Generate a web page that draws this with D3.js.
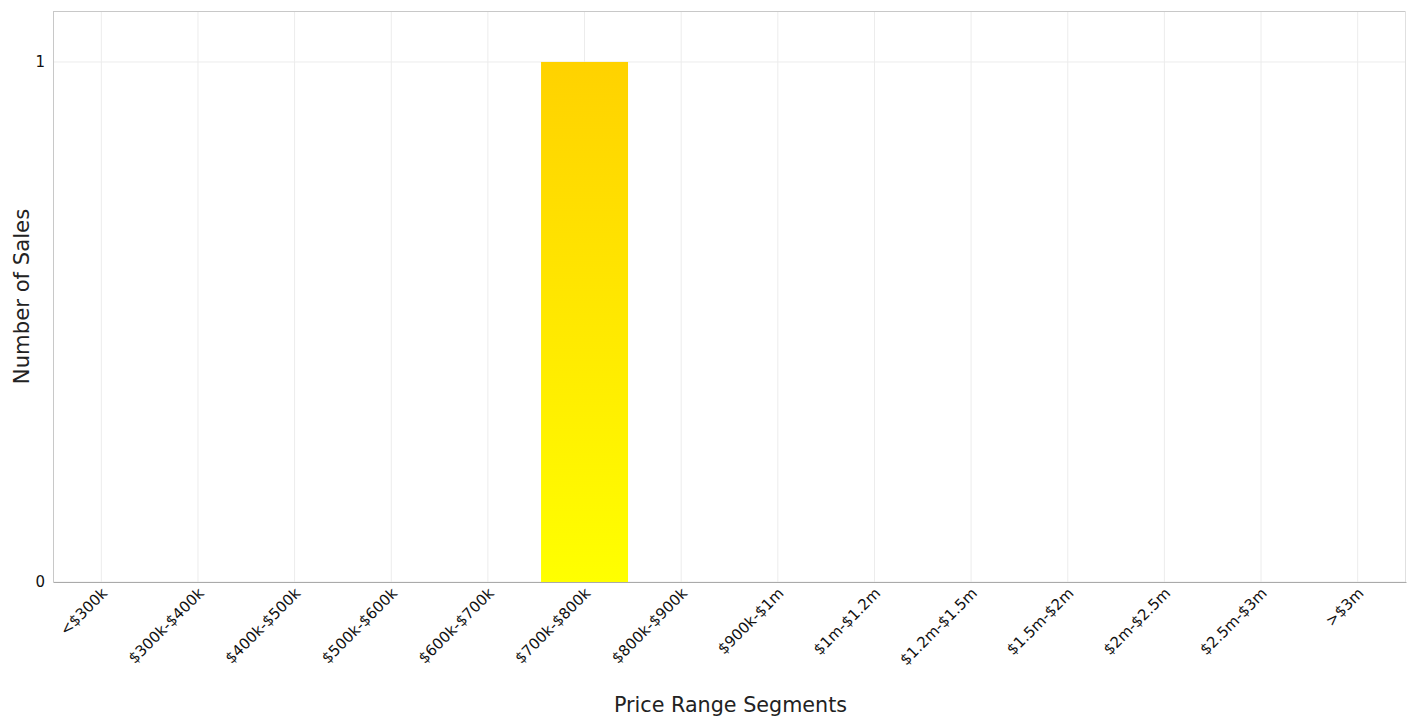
<!DOCTYPE html>
<html>
<head>
<meta charset="utf-8">
<script src="https://cdn.jsdelivr.net/npm/d3@7"></script>
<style>
  html, body { margin: 0; padding: 0; background: #fff; }
  svg { display: block; }
</style>
</head>
<body>
<svg id="chart" width="1408" height="718"></svg>
<script>
const categories = ["<$300k", "$300k-$400k", "$400k-$500k", "$500k-$600k", "$600k-$700k", "$700k-$800k", "$800k-$900k", "$900k-$1m", "$1m-$1.2m", "$1.2m-$1.5m", "$1.5m-$2m", "$2m-$2.5m", "$2.5m-$3m", ">$3m"];
const salesCounts = [0, 0, 0, 0, 0, 1, 0, 0, 0, 0, 0, 0, 0, 0];
const yTickValues = [0, 1];
const xTitle = "Price Range Segments";
const yTitle = "Number of Sales";

const svg = d3.select("#chart");
const W = 1408, H = 718;
const margin = { top: 11, right: 2, bottom: 136, left: 53 };
const iw = W - margin.left - margin.right;
const ih = H - margin.top - margin.bottom;

const x = d3.scaleBand().domain(categories).range([0, iw]).paddingInner(0.1).paddingOuter(0.05);
const y = d3.scaleLinear().domain([0, 1.098]).range([ih, 0]);

const defs = svg.append("defs");
const grad = defs.append("linearGradient").attr("id", "barGrad")
  .attr("x1", 0).attr("y1", 0).attr("x2", 0).attr("y2", 1);
grad.append("stop").attr("offset", "0%").attr("stop-color", "#ffd200");
grad.append("stop").attr("offset", "100%").attr("stop-color", "#ffff00");

const g = svg.append("g").attr("transform", `translate(${margin.left},${margin.top})`);

// vertical grid lines at category centers
g.append("g").selectAll("line").data(categories).join("line")
  .attr("x1", d => x(d) + x.bandwidth() / 2)
  .attr("x2", d => x(d) + x.bandwidth() / 2)
  .attr("y1", 0).attr("y2", ih)
  .attr("stroke", "#ececec").attr("stroke-width", 1);

// horizontal grid lines
g.append("g").selectAll("line").data(yTickValues).join("line")
  .attr("x1", 0).attr("x2", iw)
  .attr("y1", d => y(d)).attr("y2", d => y(d))
  .attr("stroke", "#ececec").attr("stroke-width", 1);

// bars
g.append("g").selectAll("rect").data(categories.map((c, i) => ({ c, v: salesCounts[i] }))).join("rect")
  .attr("x", d => x(d.c))
  .attr("width", x.bandwidth())
  .attr("y", d => y(d.v))
  .attr("height", d => ih - y(d.v))
  .attr("fill", "url(#barGrad)");

// frame
g.append("line").attr("x1", 0).attr("x2", iw).attr("y1", 0.5).attr("y2", 0.5).attr("stroke", "#c8c8c8");
g.append("line").attr("x1", 0.5).attr("x2", 0.5).attr("y1", 0).attr("y2", ih).attr("stroke", "#c8c8c8");
g.append("line").attr("x1", iw - 0.5).attr("x2", iw - 0.5).attr("y1", 0).attr("y2", ih).attr("stroke", "#e0e0e0");

// y axis
const yAxis = g.append("g").call(d3.axisLeft(y).tickValues(yTickValues).tickFormat(d3.format("d")).tickSize(0).tickPadding(8));
yAxis.select(".domain").remove();
yAxis.selectAll("text").attr("font-family", "'DejaVu Sans', sans-serif").attr("font-size", 15).attr("fill", "#111");

// x axis
const xAxis = g.append("g").attr("transform", `translate(0,${ih})`).call(d3.axisBottom(x).tickSize(0).tickPadding(6));
xAxis.select(".domain").attr("stroke", "#aaa");
xAxis.selectAll("text")
  .attr("font-family", "'DejaVu Sans', sans-serif").attr("font-size", 15).attr("fill", "#111")
  .attr("text-anchor", "end")
  .attr("dx", "-0.25em").attr("dy", "0.5em")
  .attr("transform", "rotate(-45)");

// titles
svg.append("text")
  .attr("x", margin.left + iw / 2 + 1).attr("y", 712)
  .attr("text-anchor", "middle")
  .attr("font-family", "'DejaVu Sans', sans-serif").attr("font-size", 20.7).attr("fill", "#222")
  .text(xTitle);

svg.append("text")
  .attr("transform", `translate(29,${margin.top + ih / 2}) rotate(-90)`)
  .attr("text-anchor", "middle")
  .attr("font-family", "'DejaVu Sans', sans-serif").attr("font-size", 21.2).attr("fill", "#222")
  .text(yTitle);
</script>
</body>
</html>
